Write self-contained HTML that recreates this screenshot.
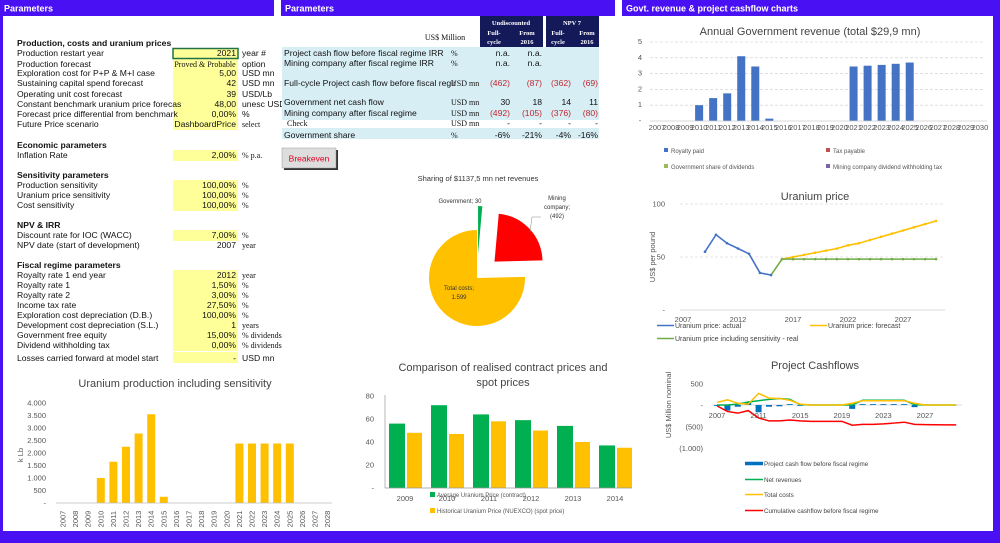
<!DOCTYPE html>
<html><head><meta charset="utf-8"><style>
html,body{margin:0;padding:0;background:#fff;}
svg{display:block;font-family:"Liberation Sans",sans-serif;}
.t{font-size:8.6px;fill:#111;}
.s{font-family:"Liberation Serif",serif;font-size:8px;fill:#111;}
.ax{font-size:7.5px;fill:#555;}
.ttl{font-size:11px;fill:#444;}
</style></head><body>
<svg id="page" width="1000" height="543" viewBox="0 0 1000 543" xmlns="http://www.w3.org/2000/svg">
<rect width="1000" height="543" fill="#fff"/>
<g fill="#4a10f4">
<rect x="0" y="0" width="274" height="16"/>
<rect x="281" y="0" width="334" height="16"/>
<rect x="622" y="0" width="378" height="16"/>
<rect x="0" y="0" width="3" height="543"/>
<rect x="993" y="0" width="7" height="543"/>
<rect x="0" y="531" width="1000" height="12"/>
</g>
<text x="4" y="11.5" fill="#fff" font-weight="bold" font-size="9">Parameters</text>
<text x="285" y="11.5" fill="#fff" font-weight="bold" font-size="9">Parameters</text>
<text x="626" y="11.5" fill="#fff" font-weight="bold" font-size="9">Govt. revenue &amp; project cashflow charts</text>
<g id="params"></g>
<g id="results"></g>
<g>
<rect x="284" y="150" width="54" height="20" fill="#333"/>
<rect x="282" y="148" width="54" height="20" fill="#ddd" stroke="#999" stroke-width="0.5"/>
<text x="309" y="161.5" text-anchor="middle" font-size="8.5" fill="#e00020">Breakeven</text>
</g>
<g id="pie"></g>
<g id="prod"></g>
<g id="comp"></g>
<g id="gov"></g>
<g id="price"></g>
<g id="cash"></g>
</svg>
<script>
// ---------- data ----------
const paramLabels=["Production restart year","Production forecast","Exploration cost for P+P & M+I case","Sustaining capital spend forecast","Operating unit cost forecast","Constant benchmark uranium price forecas","Forecast price differential from benchmark","Future Price scenario","Inflation Rate","Production sensitivity","Uranium price sensitivity","Cost sensitivity","Discount rate for IOC (WACC)","NPV date (start of development)","Royalty rate 1 end year","Royalty rate 1","Royalty rate 2","Income tax rate","Exploration cost depreciation (D.B.)","Development cost depreciation (S.L.)","Government free equity","Dividend withholding tax","Losses carried forward at model start"];
const paramValues=["2021","Proved & Probable","5,00","42","39","48,00","0,00%","DashboardPrice","2,00%","100,00%","100,00%","100,00%","7,00%","2007","2012","1,50%","3,00%","27,50%","100,00%","1","15,00%","0,00%","-"];
const paramUnits=["year #","option","USD mn","USD mn","USD/Lb","unesc USD/","%","select","% p.a.","%","%","%","%","year","year","%","%","%","%","years","% dividends","% dividends","USD mn"];
const sectionTitles=["Production, costs and uranium prices","Economic parameters","Sensitivity parameters","NPV & IRR","Fiscal regime parameters"];

const resLabels=["Project cash flow before fiscal regime IRR","Mining company after fiscal regime IRR","Full-cycle Project cash flow before fiscal regir","Government net cash flow","Mining company after fiscal regime","Check","Government share"];
const resUnits=["%","%","USD mn","USD mn","USD mn","USD mn","%"];
const resUndFull=["n.a.","n.a.","(462)","30","(492)","-","-6%"];
const resUnd2016=["n.a.","n.a.","(87)","18","(105)","-","-21%"];
const resNpvFull=["","","(362)","14","(376)","-","-4%"];
const resNpv2016=["","","(69)","11","(80)","-","-16%"];

const pieLabels=["Government; 30","Mining company; (492)","Total costs; 1.599"];
const pieValues=[30,492,1599];

const prodYears=[2007,2008,2009,2010,2011,2012,2013,2014,2015,2016,2017,2018,2019,2020,2021,2022,2023,2024,2025,2026,2027,2028];
const prodValues=[0,0,0,1000,1650,2250,2780,3550,250,0,0,0,0,0,2380,2380,2380,2380,2380,0,0,0];
const prodTicks=[0,500,1000,1500,2000,2500,3000,3500,4000];
const prodTickLabels=["-","500","1.000","1.500","2.000","2.500","3.000","3.500","4.000"];

const compYears=["2009","2010","2011","2012","2013","2014"];
const compContract=[56,72,64,59,54,37];
const compSpot=[48,47,58,50,40,35];
const compTicks=[0,20,40,60,80];
const compTickLabels=["-","20","40","60","80"];

const govYears=[2007,2008,2009,2010,2011,2012,2013,2014,2015,2016,2017,2018,2019,2020,2021,2022,2023,2024,2025,2026,2027,2028,2029,2030];
const govRoyalty=[0,0,0,1.0,1.45,1.75,4.1,3.45,0.15,0,0,0,0,0,3.45,3.5,3.55,3.62,3.7,0,0,0,0,0];
const govTicks=[0,1,2,3,4,5];
const govTickLabels=["-","1","2","3","4","5"];

const priceActualYears=[2009,2010,2011,2012,2013,2014,2015];
const priceActual=[55,71,63,58,53,35,33];
const priceForecastYears=[2016,2017,2018,2019,2020,2021,2022,2023,2024,2025,2026,2027,2028,2029,2030];
const priceForecast=[48,50,52,54,56,58,61,63,66,69,72,75,78,81,84];
const priceRealYears=[2015,2016,2017,2018,2019,2020,2021,2022,2023,2024,2025,2026,2027,2028,2029,2030];
const priceReal=[33,48,48,48,48,48,48,48,48,48,48,48,48,48,48,48];
const priceXTicks=[2007,2012,2017,2022,2027];
const priceYTicks=[0,50,100];
const priceYTickLabels=["-","50","100"];

const cashYears=[2007,2008,2009,2010,2011,2012,2013,2014,2015,2016,2017,2018,2019,2020,2021,2022,2023,2024,2025,2026,2027,2028,2029,2030];
const cashProject=[-20,-130,-40,60,-170,-40,-30,20,-20,-10,0,0,0,-90,20,20,20,20,20,-50,0,0,0,0];
const cashNetRev=[0,0,20,70,100,130,150,130,10,0,0,0,0,0,110,110,110,110,110,10,0,0,0,0];
const cashCosts=[60,120,40,20,270,160,150,110,20,0,0,0,0,40,100,100,100,100,100,40,0,0,0,0];
const cashCumul=[-20,-150,-190,-130,-300,-370,-370,-350,-370,-380,-380,-380,-380,-470,-450,-450,-440,-420,-400,-450,-455,-460,-462,-462];
const cashXTicks=[2007,2011,2015,2019,2023,2027];
const cashYTicks=[500,0,-500,-1000];
const cashYTickLabels=["500","-","(500)","(1.000)"];

// ---------- helpers ----------
const NS="http://www.w3.org/2000/svg";
function mk(parent,tag,attrs,txt){const e=document.createElementNS(NS,tag);for(const k in attrs)e.setAttribute(k,attrs[k]);if(txt!==undefined)e.textContent=txt;parent.appendChild(e);return e;}

// ---------- parameters table ----------
(function(){
 const g=document.getElementById('params');
 const rowY=[53,64,73,83,94,104,114,124,155,185,195,205,235,245,275,285,295,305,315,325,335,345,358];
 const secY=[43,145,175,225,265];
 const serifUnit=[false,false,false,false,false,false,false,true,true,true,true,true,true,true,true,true,true,true,true,true,true,true,false];
 const yellow=[[48,130],[150,161],[180,211],[230,241],[270,351],[352,363]];
 yellow.forEach(b=>{const r=mk(g,'rect',{x:173,y:b[0],width:65,height:b[1]-b[0],fill:'#ffff99'});
  
  });
 const sel=mk(g,'rect',{x:173,y:48.5,width:65,height:10,fill:'none',stroke:'#217346','stroke-width':1.5});
 
 
 sectionTitles.forEach((s,i)=>{const t=mk(g,'text',{x:17,y:secY[i]+3,'font-weight':'bold',class:'t'},s);
  
  });
 paramLabels.forEach((s,i)=>{const y=rowY[i]+3;
  const l=mk(g,'text',{x:17,y:y,class:'t'},s);
  
  
  const small=i===1;
  const v=mk(g,'text',{x:small?205:236,y:y,'text-anchor':small?'middle':'end',class:small?'s':'t','font-size':small?'6':'8.6'},paramValues[i]);
  
  
  const u=mk(g,'text',{x:242,y:y,class:serifUnit[i]?'s':'t'},paramUnits[i]);
  
  });
})();

// ---------- results table ----------
(function(){
 const g=document.getElementById('results');
 const hb=[[480,16,63,31],[546,16,53,31]];
 hb.forEach(b=>{const r=mk(g,'rect',{x:b[0],y:b[1],width:b[2],height:b[3],fill:'#14195a'});
  
  });
 const heads=[[511,25,'Undiscounted'],[572,25,'NPV 7'],[494,35,'Full-'],[494,44,'cycle'],[527,35,'From'],[527,44,'2016'],[558,35,'Full-'],[558,44,'cycle'],[587,35,'From'],[587,44,'2016']];
 heads.forEach(h=>{const t=mk(g,'text',{x:h[0],y:h[1],'text-anchor':'middle',fill:'#fff','font-weight':'bold','font-size':'6.5','font-family':'Liberation Serif, serif'},h[2]);
  
  });
 const us=mk(g,'text',{x:445,y:40,'text-anchor':'middle',class:'s','font-size':'6.5'},'US$ Million');
 
 
 const blue=[[282,47,317,73],[282,128,317,11]];
 blue.forEach(b=>{const r=mk(g,'rect',{x:b[0],y:b[1],width:b[2],height:b[3],fill:'#d8eef5'});
  
  });
 const rowY=[53,63,83,102,113,123,135];
 resLabels.forEach((s,i)=>{const y=rowY[i]+3;const check=i===5;
  const l=mk(g,'text',{x:check?287:284,y:y,class:check?'s':'t','font-size':check?'6.5':'8.6'},s);
  
  
  const u=mk(g,'text',{x:451,y:y,class:'s'},resUnits[i]);
  
  
  [[resUndFull,510],[resUnd2016,542],[resNpvFull,571],[resNpv2016,598]].forEach(c=>{
   const v=c[0][i];const neg=v.startsWith('(');
   const t=mk(g,'text',{x:c[1],y:y,'text-anchor':'end',class:'t'},v);
   if(neg)t.style.fill='#c0272d';
   
   });});
})();

// ---------- pie ----------
(function(){
 const g=document.getElementById('pie');
 const t=mk(g,'text',{x:478,y:181,'text-anchor':'middle','font-size':'7.5',fill:'#333'},'Sharing of $1137,5 mn net revenues');
 
 
 const cx=477,cy=278,r=48,colors=['#00b050','#ff0000','#ffc000'],explode=[24,24,0];
 const total=pieValues.reduce((a,b)=>a+b,0);let a0=0;
 pieValues.forEach((v,i)=>{const a1=a0+v/total*2*Math.PI;const mid=(a0+a1)/2;
  const ox=cx+explode[i]*Math.sin(mid),oy=cy-explode[i]*Math.cos(mid);
  const p=(a)=>[ox+r*Math.sin(a),oy-r*Math.cos(a)];const s=p(a0),e=p(a1);
  const large=(a1-a0)>Math.PI?1:0;
  const path=mk(g,'path',{d:`M${ox},${oy} L${s[0]},${s[1]} A${r},${r} 0 ${large} 1 ${e[0]},${e[1]} Z`,fill:colors[i]});
  
  
  a0=a1;});
 const ln=mk(g,'polyline',{points:'530,232 532,217 541,217',fill:'none',stroke:'#888','stroke-width':0.5});
 
 
 const lab=[[[460,203,pieLabels[0]]],[[557,200,'Mining'],[557,209,'company;'],[557,218,'(492)']],[[459,290,'Total costs;'],[459,299,'1.599']]];
 lab.forEach((ls,i)=>ls.forEach(l=>{const tt=mk(g,'text',{x:l[0],y:l[1],'text-anchor':'middle','font-size':'6',fill:'#333'},l[2]);
  
  }));
})();

// ---------- production chart ----------
(function(){
 const g=document.getElementById('prod');
 const x=i=>63+i*12.6, y=v=>503-v/500*12.5;
 const t=mk(g,'text',{x:175,y:387,'text-anchor':'middle',class:'ttl'},'Uranium production including sensitivity');
 
 
 prodTicks.forEach((v,i)=>{const tt=mk(g,'text',{x:46,y:y(v)+2.5,'text-anchor':'end',class:'ax','font-size':'7.5'},prodTickLabels[i]);
  
  });
 const yt=mk(g,'text',{x:0,y:0,transform:'translate(23,455) rotate(-90)','text-anchor':'middle',class:'ax'},'k Lb');
 
 
 prodValues.forEach((v,i)=>{if(v>0){const b=mk(g,'rect',{x:x(i)-4,y:y(v),width:8,height:503-y(v),fill:'#ffc000'});
   
   }
  const l=mk(g,'text',{x:0,y:0,transform:`translate(${x(i)+2.5},${519}) rotate(-90)`,'text-anchor':'middle',class:'ax','font-size':'6.3'},prodYears[i]);
  
  });
 const ax=mk(g,'line',{x1:56,y1:503,x2:332,y2:503,stroke:'#bbb','stroke-width':0.7});
 
 
})();

// ---------- comparison chart ----------
(function(){
 const g=document.getElementById('comp');
 const x=i=>405+i*42, y=v=>488-v*1.15;
 [['Comparison of realised contract prices and',371],['spot prices',386]].forEach(l=>{const t=mk(g,'text',{x:503,y:l[1],'text-anchor':'middle',class:'ttl'},l[0]);
  
  });
 compTicks.forEach((v,i)=>{const tt=mk(g,'text',{x:374,y:y(v)+2.5,'text-anchor':'end',class:'ax'},compTickLabels[i]);
  
  });
 compYears.forEach((yr,i)=>{const c=x(i);
  const b1=mk(g,'rect',{x:c-16,y:y(compContract[i]),width:16,height:488-y(compContract[i]),fill:'#00b050'});
  
  
  const b2=mk(g,'rect',{x:c+2,y:y(compSpot[i]),width:15,height:488-y(compSpot[i]),fill:'#ffc000'});
  
  
  const l=mk(g,'text',{x:c,y:501,'text-anchor':'middle',class:'ax','font-size':'8'},yr);
  
  });
 const a1=mk(g,'line',{x1:385,y1:395,x2:385,y2:488,stroke:'#999','stroke-width':0.7});
 
 
 const a2=mk(g,'line',{x1:385,y1:488,x2:632,y2:488,stroke:'#999','stroke-width':0.7});
 
 
 [['#00b050',430,497,'Average Uranium Price (contract)'],['#ffc000',430,513,'Historical Uranium Price (NUEXCO) (spot price)']].forEach(l=>{
  const r=mk(g,'rect',{x:l[1],y:l[2]-5,width:5,height:5,fill:l[0]});
  
  
  const t=mk(g,'text',{x:l[1]+7,y:l[2],'font-size':'6',fill:'#555'},l[3]);
  
  });
})();

// ---------- government revenue chart ----------
(function(){
 const g=document.getElementById('gov');
 const x=i=>657+i*14.04, y=v=>121-v*15.8;
 const t=mk(g,'text',{x:810,y:35,'text-anchor':'middle',class:'ttl'},'Annual Government revenue (total $29,9 mn)');
 
 
 govTicks.forEach((v,i)=>{if(v>0){const gl=mk(g,'line',{x1:650,y1:y(v),x2:985,y2:y(v),stroke:'#ccc','stroke-width':0.6,'stroke-dasharray':'3,2'});
   
   }
  const tt=mk(g,'text',{x:640,y:y(v)+2,'text-anchor':'middle',class:'ax','font-size':'5.5'},govTickLabels[i]);
  
  });
 govRoyalty.forEach((v,i)=>{if(v>0){const b=mk(g,'rect',{x:x(i)-4,y:y(v),width:8,height:121-y(v),fill:'#4472c4'});
   
   }
  const l=mk(g,'text',{x:x(i),y:130,'text-anchor':'middle',class:'ax','font-size':'3.9'},govYears[i]);
  
  });
 const ax=mk(g,'line',{x1:650,y1:121,x2:987,y2:121,stroke:'#ccc','stroke-width':0.7});
 
 
 [['#4472c4',664,153,'Royalty paid'],['#c0504d',826,153,'Tax payable'],['#9bbb59',664,169,'Government share of dividends'],['#8064a2',826,169,'Mining company dividend withholding tax']].forEach(l=>{
  const r=mk(g,'rect',{x:l[1],y:l[2]-5,width:4,height:4,fill:l[0]});
  
  
  const tt=mk(g,'text',{x:l[1]+7,y:l[2],'font-size':'6',fill:'#555'},l[3]);
  
  });
})();

// ---------- uranium price chart ----------
(function(){
 const g=document.getElementById('price');
 const x=yr=>683+(yr-2007)*11, y=v=>310-v*1.06;
 const t=mk(g,'text',{x:815,y:200,'text-anchor':'middle',class:'ttl'},'Uranium price');
 
 
 priceYTicks.forEach((v,i)=>{if(v>0){const gl=mk(g,'line',{x1:680,y1:y(v),x2:945,y2:y(v),stroke:'#ccc','stroke-width':0.6,'stroke-dasharray':'3,2'});
   
   }
  const tt=mk(g,'text',{x:665,y:y(v)+2.5,'text-anchor':'end',class:'ax'},priceYTickLabels[i]);
  
  });
 priceXTicks.forEach(yr=>{const l=mk(g,'text',{x:x(yr),y:322,'text-anchor':'middle',class:'ax'},yr);
  
  });
 const yt=mk(g,'text',{x:0,y:0,transform:'translate(655,257) rotate(-90)','text-anchor':'middle',class:'ax','font-size':'8'},'US$ per pound');
 
 
 const series=[[priceForecastYears,priceForecast,'#ffc000','forecast-price-line'],[priceRealYears,priceReal,'#70ad47','real-price-line'],[priceActualYears,priceActual,'#4472c4','actual-price-line']];
 series.forEach(s=>{const pts=s[0].map((yr,i)=>x(yr)+','+y(s[1][i])).join(' ');
  const pl=mk(g,'polyline',{points:pts,fill:'none',stroke:s[2],'stroke-width':1.6});
  
  
  s[0].forEach((yr,i)=>{const c=mk(g,'circle',{cx:x(yr),cy:y(s[1][i]),r:1.3,fill:s[2]});
   
   });});
 [['#4472c4',657,328,'Uranium  price: actual'],['#ffc000',810,328,'Uranium  price: forecast'],['#70ad47',657,341,'Uranium  price including sensitivity - real']].forEach(l=>{
  const ln=mk(g,'line',{x1:l[1],y1:l[2]-2.5,x2:l[1]+17,y2:l[2]-2.5,stroke:l[0],'stroke-width':1.6});
  
  
  const tt=mk(g,'text',{x:l[1]+18,y:l[2],'font-size':'7',fill:'#444'},l[3]);
  
  });
 const ax=mk(g,'line',{x1:680,y1:310,x2:945,y2:310,stroke:'#ccc','stroke-width':0.7});
 
 
})();

// ---------- project cashflows chart ----------
(function(){
 const g=document.getElementById('cash');
 const x=yr=>717+(yr-2007)*10.4, y=v=>405-v*0.043;
 const t=mk(g,'text',{x:815,y:369,'text-anchor':'middle',class:'ttl'},'Project Cashflows');
 
 
 cashYTicks.forEach((v,i)=>{const tt=mk(g,'text',{x:703,y:y(v)+3,'text-anchor':'end',class:'ax','font-size':'8'},cashYTickLabels[i]);
  
  });
 const yt=mk(g,'text',{x:0,y:0,transform:'translate(671,405) rotate(-90)','text-anchor':'middle',class:'ax','font-size':'7.5'},'US$ Million nominal');
 
 
 const ax=mk(g,'line',{x1:712,y1:405,x2:962,y2:405,stroke:'#ccc','stroke-width':0.7});
 
 
 cashProject.forEach((v,i)=>{const yr=cashYears[i];const top=Math.min(y(v),405);const h=Math.abs(y(v)-405);
  if(h>0.5){const b=mk(g,'rect',{x:x(yr)-3,y:top,width:6,height:h,fill:'#0070c0'});
   
   }});
 [[cashNetRev,'#00b050','net-revenues-line'],[cashCosts,'#ffc000','total-costs-line'],[cashCumul,'#ff0000','cumulative-cashflow-line']].forEach(s=>{
  const pts=cashYears.map((yr,i)=>x(yr)+','+y(s[0][i])).join(' ');
  const pl=mk(g,'polyline',{points:pts,fill:'none',stroke:s[1],'stroke-width':1.5});
  
  });
 cashXTicks.forEach(yr=>{const l=mk(g,'text',{x:x(yr),y:418,'text-anchor':'middle',class:'ax'},yr);
  
  });
 [['#0070c0',466,'Project cash flow before fiscal regime',3.5],['#00b050',482,'Net revenues',1.5],['#ffc000',497,'Total costs',1.5],['#ff0000',513,'Cumulative cashflow before fiscal regime',1.5]].forEach(l=>{
  const ln=mk(g,'line',{x1:745,y1:l[1]-2.5,x2:763,y2:l[1]-2.5,stroke:l[0],'stroke-width':l[3]});
  
  
  const tt=mk(g,'text',{x:764,y:l[1],'font-size':'6.3',fill:'#444'},l[2]);
  
  });
})();
</script>
</body></html>
